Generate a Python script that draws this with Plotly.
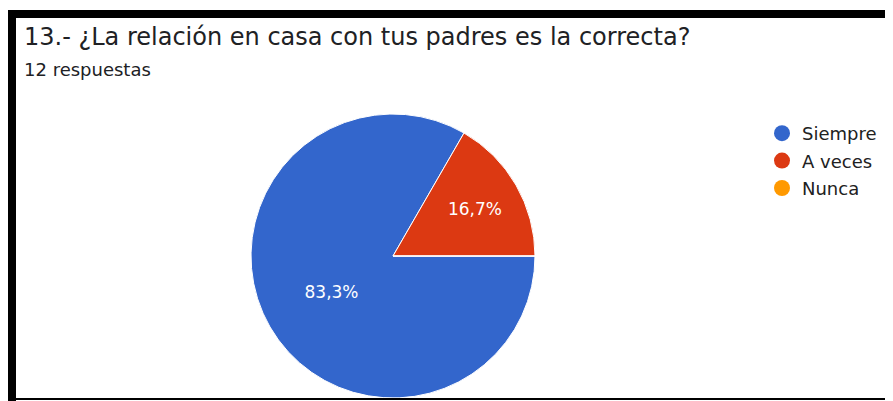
import plotly.graph_objects as go

labels = ["Siempre", "A veces", "Nunca"]
values = [10, 2, 0]
colors = ["#3366CC", "#DC3912", "#FF9900"]
title_text = "13.- ¿La relación en casa con tus padres es la correcta?"
subtitle_text = "12 respuestas"

# page body has an 8px margin, so figure = window - 8
W, H = 885, 393
FONT = "DejaVu Sans"

cx, cy, r = 385, 248, 142  # pie centre / radius in figure pixels (from top-left)

fig = go.Figure()
fig.add_trace(go.Pie(
    labels=labels, values=values, sort=False, direction="clockwise", rotation=90,
    marker=dict(colors=colors, line=dict(color="white", width=1)),
    texttemplate="%{percent:.1%}", textposition="inside",
    insidetextfont=dict(color="white", size=17, family=FONT),
    showlegend=False, hoverinfo="label+percent",
    domain=dict(x=[(cx - r) / W, (cx + r) / W],
                y=[(H - cy - r) / H, (H - cy + r) / H]),
))
for lab, col in zip(labels, colors):
    fig.add_trace(go.Scatter(x=[None], y=[None], mode="markers", name=lab,
                             legendgroup=lab,
                             marker=dict(symbol="circle", size=17, color=col)))

shapes = [
    dict(type="rect", xref="paper", yref="paper", x0=0, x1=1.0, y0=1 - 10 / H, y1=1 - 2 / H,
         fillcolor="black", line=dict(width=0)),
    dict(type="rect", xref="paper", yref="paper", x0=0, x1=8 / W, y0=0, y1=1 - 2 / H,
         fillcolor="black", line=dict(width=0)),
    dict(type="rect", xref="paper", yref="paper", x0=8 / W, x1=1.0, y0=1 - 392 / H, y1=1 - 390 / H,
         fillcolor="black", line=dict(width=0)),
]

fig.update_layout(
    width=W, height=H, margin=dict(l=0, r=0, t=0, b=0),
    paper_bgcolor="white", plot_bgcolor="white",
    separators=",.",
    font=dict(family=FONT, color="#212121"),
    xaxis=dict(visible=False), yaxis=dict(visible=False),
    shapes=shapes,
    showlegend=True,
    legend=dict(x=754 / W, y=1 - 107 / H, xanchor="left", yanchor="top",
                font=dict(size=18, color="#212121", family=FONT),
                bgcolor="rgba(0,0,0,0)",
                traceorder="grouped", tracegroupgap=1),
    annotations=[
        dict(text=title_text, xref="paper", yref="paper", x=14 / W, y=1 - 29 / H,
             xanchor="left", yanchor="middle", showarrow=False,
             font=dict(size=24, color="#202124", family=FONT)),
        dict(text=subtitle_text, xref="paper", yref="paper", x=14 / W, y=1 - 61 / H,
             xanchor="left", yanchor="middle", showarrow=False,
             font=dict(size=18, color="#202124", family=FONT)),
    ],
)

fig.write_html("out.html")
